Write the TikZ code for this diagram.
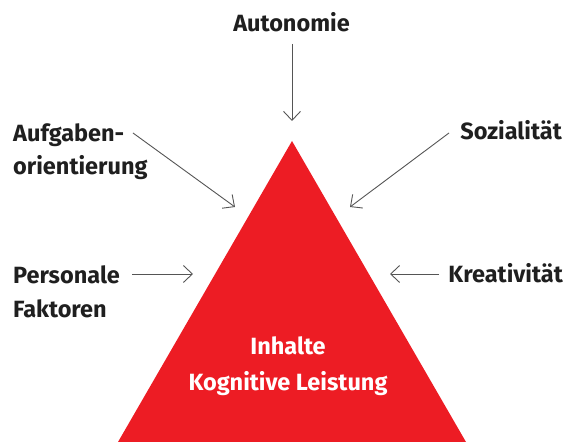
\documentclass[tikz,border=0pt]{standalone}
\usepackage{fontspec}
\setmainfont{Fira Sans}
\usetikzlibrary{arrows.meta}
\definecolor{tri}{HTML}{ED1C24}
\definecolor{arr}{HTML}{555555}
\begin{document}
\begin{tikzpicture}[x=1pt,y=1pt,
  lbl/.style={inner sep=0pt,font=\bfseries\fontsize{23.5}{30}\selectfont,text=black!88},
  inlbl/.style={lbl,text=white},
  conn/.style={draw=arr,line width=0.9pt,-{Straight Barb[length=9pt,width=17pt,line width=0.9pt]}}]
\useasboundingbox (0,0) rectangle (568,442);
% triangle
\coordinate (apex) at (292,301);
\coordinate (bl) at (118,0);
\coordinate (br) at (466,0);
\fill[tri] (apex) -- (br) -- (bl) -- cycle;
% labels
\node[lbl,anchor=base] (auto) at (291.5,410) {Autonomie};
\node[lbl,anchor=base west] (aufg1) at (13,300) {Aufgaben-};
\node[lbl,anchor=base west] (aufg2) at (13,267) {orientierung};
\node[lbl,anchor=base east] (sozi) at (562,302) {Sozialität};
\node[lbl,anchor=base west] (pers1) at (13,158) {Personale};
\node[lbl,anchor=base west] (pers2) at (13,124) {Faktoren};
\node[lbl,anchor=base east] (krea) at (563,159) {Kreativität};
\node[inlbl,anchor=base] (inh) at (288,87) {Inhalte};
\node[inlbl,anchor=base] (kog) at (288,51) {Kognitive Leistung};
% arrow ends
\coordinate (autoS) at (292,398);
\coordinate (autoE) at (292,321);
\coordinate (aufgS) at (133,309);
\coordinate (aufgE) at (235,235);
\coordinate (soziS) at (449,309);
\coordinate (soziE) at (350,235);
\coordinate (persS) at (132,168);
\coordinate (persE) at (193,168);
\coordinate (kreaS) at (439,168);
\coordinate (kreaE) at (390,168);
\draw[conn] (autoS) -- (autoE);
\draw[conn] (aufgS) -- (aufgE);
\draw[conn] (soziS) -- (soziE);
\draw[conn] (persS) -- (persE);
\draw[conn] (kreaS) -- (kreaE);
\end{tikzpicture}
\end{document}
